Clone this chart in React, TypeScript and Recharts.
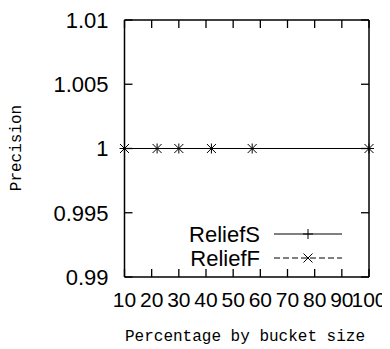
import React from "react";
import { LineChart, Line, XAxis, YAxis, ReferenceLine } from "recharts";

// bucket size (%) at which precision was measured
const bucketSizes = [10, 22, 30, 42, 57, 100];
const reliefS = [1, 1, 1, 1, 1, 1];
const reliefF = [1, 1, 1, 1, 1, 1];

const xTicks = [10, 20, 30, 40, 50, 60, 70, 80, 90, 100];
const yTicks = [0.99, 0.995, 1, 1.005, 1.01];
const xDomain = [10, 100];
const yDomain = [0.99, 1.01];

const data = bucketSizes.map((x, i) => ({
  x,
  ReliefS: reliefS[i],
  ReliefF: reliefF[i],
}));

const TICK_FONT = "'Liberation Sans', Arial, sans-serif";
const LABEL_FONT = "'Liberation Mono', 'Courier New', monospace";

// layout
const W = 382;
const H = 341;
const MARGIN = { top: 12, right: 21, bottom: 0, left: 0 };
const Y_AXIS_W = 116.5;
const X_AXIS_H = 72;
const PLOT_H = H - X_AXIS_H - MARGIN.top;
const PLOT_W = W - MARGIN.right - Y_AXIS_W;
const X_OFF = 15.5; // tick size + margin under the frame
const Y_OFF = 16;
const TICK_LEN = 8;

const frame = { stroke: "#000", strokeWidth: 1.5 };

// gnuplot-style ticks: inward marks on both sides, label outside the frame
const XTick = ({ x, y, payload }: any) => {
  const bottom = y - X_OFF;
  const top = bottom - PLOT_H;
  return (
    <g>
      <line x1={x} x2={x} y1={bottom} y2={bottom - TICK_LEN} stroke="#000" strokeWidth={1.3} />
      <line x1={x} x2={x} y1={top} y2={top + TICK_LEN} stroke="#000" strokeWidth={1.3} />
      <text x={x} y={y} dy="0.71em" textAnchor="middle" fontFamily={TICK_FONT} fontSize={21} fill="#000">
        {payload.value}
      </text>
    </g>
  );
};

const YTick = ({ x, y, payload }: any) => {
  const left = x + Y_OFF;
  const right = left + PLOT_W;
  return (
    <g>
      <line x1={left} x2={left + TICK_LEN} y1={y} y2={y} stroke="#000" strokeWidth={1.3} />
      <line x1={right} x2={right - TICK_LEN} y1={y} y2={y} stroke="#000" strokeWidth={1.3} />
      <text x={x} y={y} dy="0.355em" textAnchor="end" fontFamily={TICK_FONT} fontSize={22} fill="#000">
        {payload.value}
      </text>
    </g>
  );
};

const Plus = ({ cx, cy, s = 5 }: { cx: number; cy: number; s?: number }) => (
  <path
    d={`M${cx - s},${cy}H${cx + s}M${cx},${cy - s}V${cy + s}`}
    stroke="#000"
    strokeWidth={1}
    fill="none"
  />
);

const Cross = ({ cx, cy, s = 4.5 }: { cx: number; cy: number; s?: number }) => (
  <path
    d={`M${cx - s},${cy - s}L${cx + s},${cy + s}M${cx - s},${cy + s}L${cx + s},${cy - s}`}
    stroke="#000"
    strokeWidth={1}
    fill="none"
  />
);

const series = [
  { key: "ReliefS", dash: undefined as string | undefined, Marker: Plus },
  { key: "ReliefF", dash: "6 3", Marker: Cross },
];

const KeyBox = () => (
  <svg width={190} height={52} style={{ display: "block" }}>
    {series.map((s, i) => {
      const y = 14 + i * 24;
      return (
        <g key={s.key}>
          <text
            x={100}
            y={y}
            textAnchor="end"
            dominantBaseline="central"
            fontFamily={TICK_FONT}
            fontSize={22}
            fill="#000"
          >
            {s.key}
          </text>
          <line
            x1={114}
            x2={182}
            y1={y}
            y2={y}
            stroke="#000"
            strokeWidth={1}
            strokeDasharray={s.dash}
          />
          <s.Marker cx={148} cy={y} />
        </g>
      );
    })}
  </svg>
);

export default function App() {
  return (
    <div style={{ position: "relative", width: W, height: H }}>
      <LineChart width={W} height={H} data={data} margin={MARGIN}>
        <XAxis
          dataKey="x"
          type="number"
          domain={xDomain}
          ticks={xTicks}
          height={X_AXIS_H}
          tickSize={1}
          tickMargin={X_OFF - 1}
          axisLine={frame}
          tickLine={{ stroke: "none" }}
          tick={XTick}
        />
        <YAxis
          type="number"
          domain={yDomain}
          ticks={yTicks}
          width={Y_AXIS_W}
          tickSize={1}
          tickMargin={Y_OFF - 1}
          axisLine={frame}
          tickLine={{ stroke: "none" }}
          tick={YTick}
        />
        {/* top and right sides of the frame */}
        <ReferenceLine y={yDomain[1]} stroke="#000" strokeWidth={1.5} />
        <ReferenceLine x={xDomain[1]} stroke="#000" strokeWidth={1.5} />
        {series.map((s) => (
          <Line
            key={s.key}
            dataKey={s.key}
            stroke="#000"
            strokeWidth={1}
            strokeDasharray={s.dash}
            isAnimationActive={false}
            dot={(p: any) => <s.Marker key={`${s.key}-${p.index}`} cx={p.cx} cy={p.cy} />}
            activeDot={false}
          />
        ))}
      </LineChart>
      {/* key, inside the frame at lower right */}
      <div style={{ position: "absolute", left: 152, top: 212, width: 190 }}>
        <KeyBox />
      </div>
      <div
        style={{
          position: "absolute",
          left: 0,
          top: 320,
          width: 474,
          textAlign: "center",
          fontFamily: LABEL_FONT,
          fontSize: 16,
          color: "#000",
          lineHeight: "18px",
        }}
      >
        Percentage by bucket size
      </div>
      <div style={{ position: "absolute", left: 9, top: 140, width: 0, height: 0 }}>
        <div
          style={{
            position: "absolute",
            left: -60,
            top: -9,
            width: 120,
            textAlign: "center",
            transform: "rotate(-90deg)",
            fontFamily: LABEL_FONT,
            fontSize: 16,
            lineHeight: "18px",
            color: "#000",
          }}
        >
          Precision
        </div>
      </div>
    </div>
  );
}
